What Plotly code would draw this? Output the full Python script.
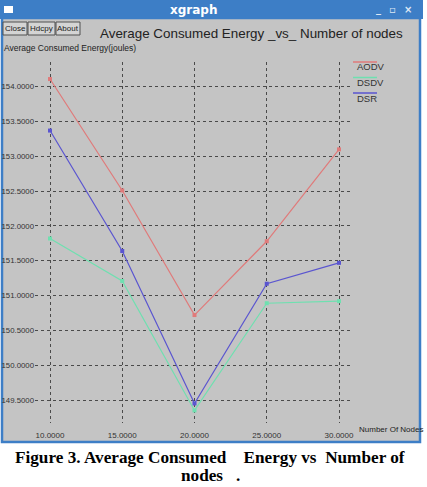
import plotly.graph_objects as go

nodes = [10, 15, 20, 25, 30]
aodv = [154.11, 152.51, 150.72, 151.78, 153.10]
dsdv = [151.82, 151.21, 149.35, 150.89, 150.92]
dsr = [153.37, 151.64, 149.45, 151.17, 151.47]
series_names = ["AODV", "DSDV", "DSR"]
series_colors = ["#e07a7a", "#6fe0b0", "#5a55d0"]
y_ticks = [149.5, 150.0, 150.5, 151.0, 151.5, 152.0, 152.5, 153.0, 153.5, 154.0]

W, H = 427, 487
L, R, T, B = 35, 353, 62, 423
pw, ph = R - L, B - T

def px(x):
    return (x - L) / pw

def py(y):
    return (B - y) / ph

FONT = "Liberation Sans"

fig = go.Figure()
for name, vals, col in zip(series_names, [aodv, dsdv, dsr], series_colors):
    fig.add_trace(go.Scatter(x=nodes, y=vals, mode="lines+markers", name=name,
                             line=dict(color=col, width=1.2),
                             marker=dict(color=col, size=4, symbol="square"),
                             showlegend=False, cliponaxis=False))

shapes = []
annotations = []
GRAY = "#c4c4c4"
BLUE = "#3d7ec6"

def text(t, x, y, size, color="#222", family=FONT, xanchor="center"):
    annotations.append(dict(text=t, x=px(x), y=py(y), xref="paper", yref="paper", showarrow=False,
                            xanchor=xanchor, yanchor="middle", font=dict(family=family, size=size, color=color)))

# window body
shapes.append(dict(type="rect", xref="paper", yref="paper", x0=px(2), x1=px(420), y0=py(442), y1=py(18),
                   fillcolor=GRAY, line=dict(color=BLUE, width=2.5), layer="below"))
# title bar
shapes.append(dict(type="rect", xref="paper", yref="paper", x0=px(0), x1=px(423), y0=py(19), y1=py(0),
                   fillcolor=BLUE, line=dict(width=0), layer="below"))
shapes.append(dict(type="rect", xref="paper", yref="paper", x0=px(4), x1=px(13), y0=py(13), y1=py(6),
                   fillcolor="white", line=dict(width=0), layer="above"))
text("<b>xgraph</b>", 193, 10, 12, color="white", family="DejaVu Sans")
for cx, sym in [(378, "_"), (392, "▫"), (408, "×")]:
    text(f"<b>{sym}</b>", cx, 9, 10, color="#dde8f5", family="DejaVu Sans")
# buttons
for x0, x1, lab in [(3, 27, "Close"), (28, 55, "Hdcpy"), (56, 80, "About")]:
    shapes.append(dict(type="rect", xref="paper", yref="paper", x0=px(x0), x1=px(x1), y0=py(35), y1=py(22),
                       fillcolor="#d4d4d4", line=dict(color="#505050", width=1), layer="below"))
    text(lab, (x0 + x1) / 2, 28.5, 8)
text("Average Consumed Energy _vs_ Number of nodes", 98, 33, 13.4, xanchor="left")
text("Average Consumed Energy(joules)", 2, 48, 8.5, xanchor="left")
text("Number Of Nodes", 357, 429, 8, xanchor="left")
# legend
for i, (name, col) in enumerate(zip(series_names, series_colors)):
    ly = 62 + i * 15.5
    shapes.append(dict(type="line", xref="paper", yref="paper", x0=px(353), x1=px(377), y0=py(ly), y1=py(ly),
                       line=dict(color=col, width=1.5), layer="above"))
    text(name, 355, ly + 5, 9.5, color="#333", xanchor="left")
# caption
text("<b>Figure 3. Average Consumed&nbsp;&nbsp;&nbsp;&nbsp;Energy vs&nbsp;&nbsp;Number of</b>", 210, 457, 17.2,
     color="black", family="Liberation Serif")
text("<b>nodes&nbsp;&nbsp;&nbsp;.</b>", 210, 475, 17.2, color="black", family="Liberation Serif")

xr0 = 10 - (50 - L) / 14.45
xr1 = 30 + (R - 339) / 14.45
yr1 = 154 + (86.7 - T) / 69.62
yr0 = 149.5 - (B - 400) / 69.62

fig.update_layout(
    width=W, height=H,
    margin=dict(l=L, r=W - R, t=T, b=H - B, autoexpand=False),
    paper_bgcolor="white", plot_bgcolor=GRAY,
    shapes=shapes, annotations=annotations, showlegend=False,
    xaxis=dict(range=[xr0, xr1], tickvals=nodes, ticktext=[f"{v:.4f}" for v in nodes], automargin=False,
               showgrid=True, gridcolor="#4a4a4a", griddash="dot", gridwidth=1, zeroline=False,
               showline=False, ticks="outside", ticklen=4, tickcolor="rgba(0,0,0,0)",
               tickfont=dict(family=FONT, size=8, color="#333")),
    yaxis=dict(range=[yr0, yr1], tickvals=y_ticks, ticktext=[f"{v:.4f}" for v in y_ticks], automargin=False,
               showgrid=True, gridcolor="#4a4a4a", griddash="dot", gridwidth=1, zeroline=False,
               showline=False, ticks="", ticklabelstandoff=0,
               tickfont=dict(family=FONT, size=7.8, color="#333")),
)
fig.write_html("out.html")
